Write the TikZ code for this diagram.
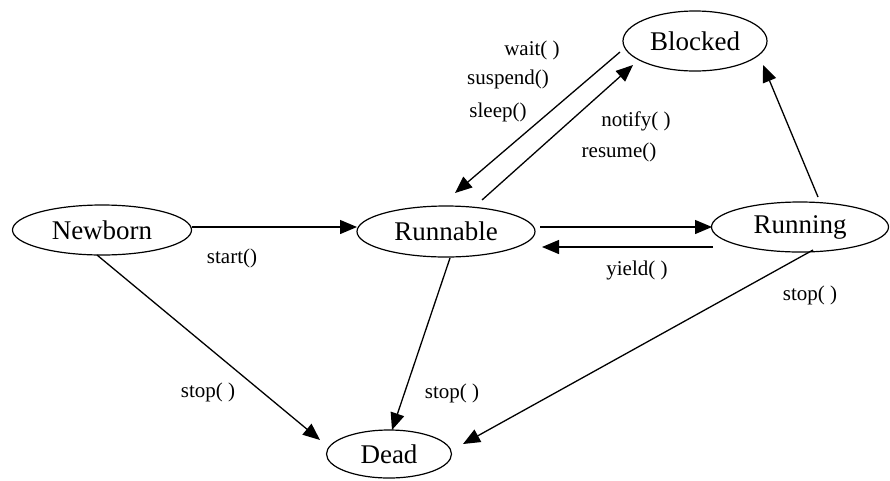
\documentclass[tikz,border=0pt]{standalone}
\usepackage{fontspec}
\setmainfont{Liberation Serif}
\usetikzlibrary{shapes.geometric,arrows.meta,calc}
\begin{document}
\begin{tikzpicture}[x=1pt,y=-1pt,
  state/.style={ellipse,draw,line width=1.2pt,inner sep=0pt,font=\fontsize{27}{30}\selectfont},
  arr/.style={line width=1.3pt,-{Triangle[length=17pt,width=14pt]}},
  lbl/.style={font=\fontsize{21}{24}\selectfont,inner sep=0pt}]
\useasboundingbox[fill=white] (0,0) rectangle (890,480);
\node[state,minimum width=179pt,minimum height=50pt] (nb) at (102,230) {Newborn};
\node[state,minimum width=178pt,minimum height=51pt] (rn) at (446,231.5) {Runnable};
\node[state,minimum width=177pt,minimum height=50pt] (ru) at (800,227) {Running};
\node[state,minimum width=144pt,minimum height=60pt] (bl) at (695,41) {Blocked};
\node[state,minimum width=125pt,minimum height=48pt] (dd) at (389,454) {Dead};
% transitions
\draw[arr] ($(nb.center)+(89.5,-3)$) -- ($(rn.center)+(-89,-4.5)$);
\draw[arr] ($(rn.center)+(94,-4.5)$) -- ($(ru.center)+(-88,0)$);
\draw[arr] ($(ru.center)+(-87,20)$) -- ($(rn.center)+(96,15.5)$);
\draw[arr] ($(rn.center)+(36,-31.5)$) -- ($(bl.center)+(-62,24)$);
\draw[arr] ($(bl.center)+(-75,11)$) -- ($(rn.center)+(9,-38.5)$);
\draw[arr] ($(ru.center)+(18,-30)$) -- ($(bl.center)+(68,24)$);
\draw[arr] ($(nb.center)+(-5,25)$) -- ($(dd.center)+(-69,-14)$);
\draw[arr] ($(rn.center)+(4,26.5)$) -- ($(dd.center)+(3,-24)$);
\draw[arr] ($(ru.center)+(13,23)$) -- ($(dd.center)+(74,-10)$);
% labels
\node[lbl] (l1) at (232,258) {start()};
\node[lbl] (l2) at (637,270) {yield( )};
\node[lbl] (l3) at (208,392) {stop( )};
\node[lbl] (l4) at (452,393) {stop( )};
\node[lbl] (l5) at (810,295) {stop( )};
\node[lbl] (l6) at (532,50) {wait( )};
\node[lbl] (l7) at (508,79) {suspend()};
\node[lbl] (l8) at (498,112) {sleep()};
\node[lbl] (l9) at (636,121) {notify( )};
\node[lbl] (l10) at (619,152) {resume()};
\end{tikzpicture}
\end{document}
